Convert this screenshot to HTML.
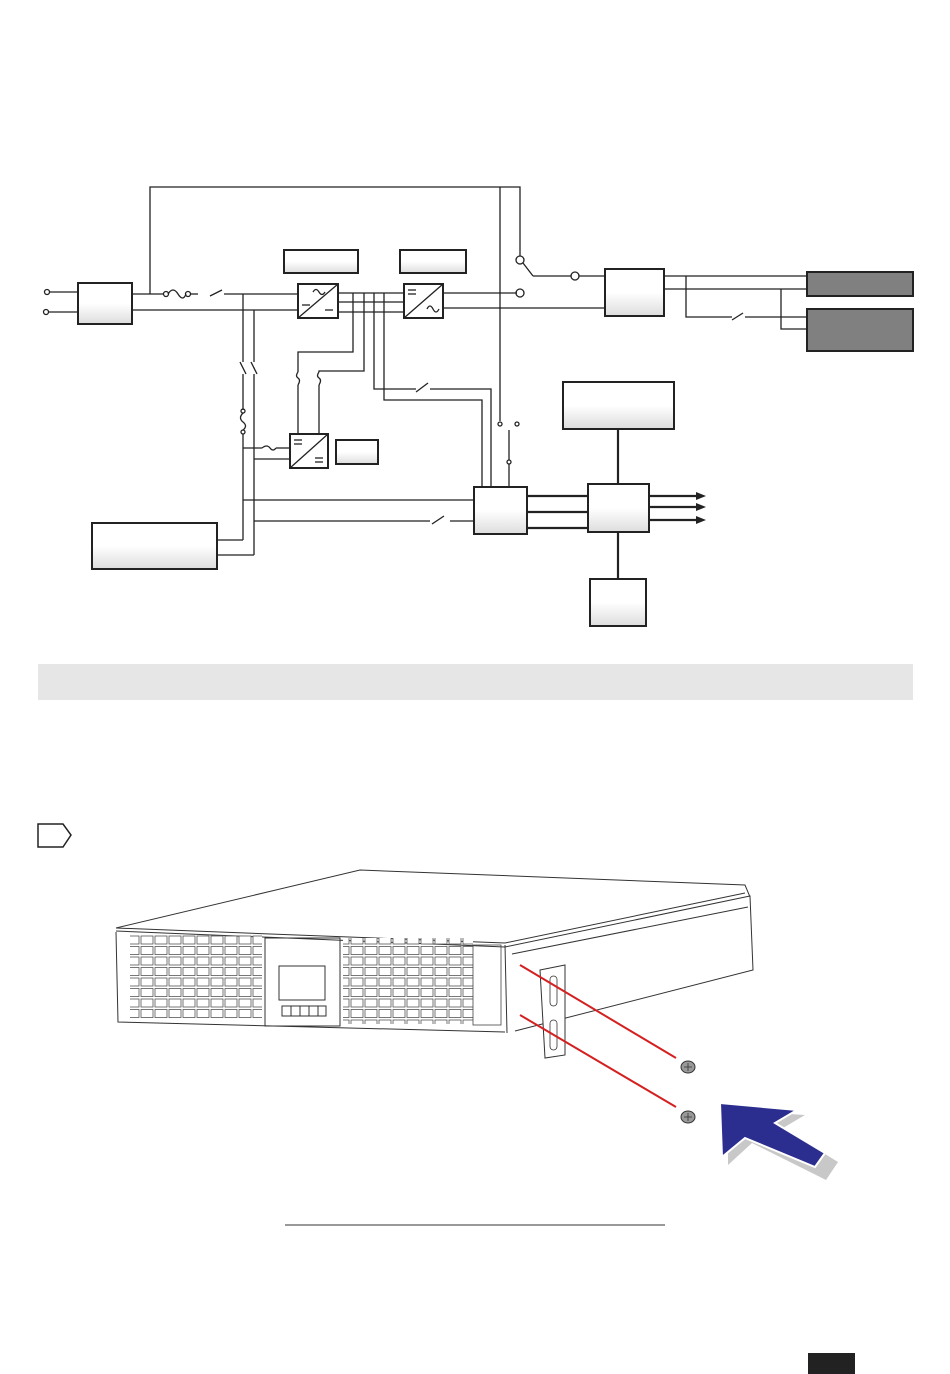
<!DOCTYPE html>
<html><head><meta charset="utf-8"><style>
html,body{margin:0;padding:0;background:#fff;}
svg{display:block;}
</style></head><body>
<svg width="950" height="1374" viewBox="0 0 950 1374" xmlns="http://www.w3.org/2000/svg">
<defs>
<linearGradient id="g" x1="0" y1="0" x2="0" y2="1"><stop offset="0.5" stop-color="#fff"/><stop offset="1" stop-color="#ddd"/></linearGradient>
<pattern id="grill" x="0" y="0" width="14" height="10.5" patternUnits="userSpaceOnUse">
<rect x="1" y="1.5" width="12" height="8" fill="#fff" stroke="#555" stroke-width="0.8"/>
</pattern>
</defs>
<g fill="none" stroke="#222" stroke-width="1.3">
<polyline points="150,294 150,187 520,187 520,256"/>
<line x1="500" y1="187" x2="500" y2="421"/>
<circle cx="47" cy="292" r="2.5"/><circle cx="46" cy="312" r="2.5"/>
<line x1="50" y1="292" x2="78" y2="292"/><line x1="49" y1="312" x2="78" y2="312"/>
<rect x="78" y="283" width="54" height="41" fill="url(#g)" stroke-width="2"/>
<line x1="132" y1="294" x2="163" y2="294"/>
<circle cx="166" cy="294" r="2.5"/><circle cx="188" cy="294" r="2.5"/>
<path d="M168,294 q5,-8 10,0 t8,0"/>
<line x1="190" y1="294" x2="198" y2="294"/>
<line x1="210" y1="296" x2="222" y2="290"/>
<line x1="224" y1="294" x2="298" y2="294"/>
<line x1="132" y1="310" x2="298" y2="310"/>
<rect x="298" y="284" width="40" height="34" stroke-width="2"/>
<line x1="298" y1="318" x2="338" y2="284"/>
<path d="M313,292 q3,-5 6,0 t6,0" />
<line x1="302" y1="305" x2="310" y2="305"/><line x1="325" y1="310" x2="333" y2="310"/>
<rect x="284" y="250" width="74" height="23" fill="url(#g)" stroke-width="2"/>
<rect x="400" y="250" width="66" height="23" fill="url(#g)" stroke-width="2"/>
<line x1="338" y1="293" x2="404" y2="293"/><line x1="338" y1="302" x2="404" y2="302"/><line x1="338" y1="312" x2="404" y2="312"/>
<rect x="404" y="284" width="39" height="34" stroke-width="2"/>
<line x1="404" y1="318" x2="443" y2="284"/>
<line x1="408" y1="290" x2="416" y2="290"/><line x1="408" y1="294" x2="416" y2="294"/>
<path d="M427,309 q3,-6 6,0 t6,0"/>
<line x1="443" y1="293" x2="517" y2="293"/><circle cx="520" cy="293" r="4"/>
<line x1="443" y1="308" x2="605" y2="308"/>
<circle cx="520" cy="260" r="4"/><line x1="523" y1="263" x2="533" y2="276"/>
<line x1="533" y1="276" x2="571" y2="276"/><circle cx="575" cy="276" r="4"/><line x1="579" y1="276" x2="605" y2="276"/>
<rect x="605" y="269" width="59" height="47" fill="url(#g)" stroke-width="2"/>
<line x1="664" y1="276" x2="807" y2="276"/><line x1="664" y1="289" x2="807" y2="289"/>
<polyline points="686,276 686,317 732,317"/><line x1="732" y1="320" x2="743" y2="313"/><polyline points="745,317 807,317"/>
<polyline points="781,289 781,329 807,329"/>
<polyline points="353,293 353,352 298,352 298,372"/>
<polyline points="364,293 364,371 319,371 319,372"/>
<path d="M298,372 q-3,4 0,6 t0,7 M319,372 q-3,4 0,6 t0,7"/>
<line x1="298" y1="385" x2="298" y2="434"/><line x1="319" y1="385" x2="319" y2="434"/>
<polyline points="374,293 374,389 416,389"/><line x1="416" y1="392" x2="428" y2="383"/><polyline points="430,389 491,389 491,487"/>
<polyline points="384,293 384,400 482,400 482,487"/>
<line x1="243" y1="294" x2="243" y2="362"/><line x1="254" y1="310" x2="254" y2="362"/>
<line x1="240" y1="362" x2="246" y2="374"/><line x1="251" y1="362" x2="257" y2="374"/>
<line x1="243" y1="374" x2="243" y2="410"/><line x1="254" y1="374" x2="254" y2="555"/>
<circle cx="243" cy="411" r="2"/><circle cx="243" cy="432" r="2"/>
<path d="M243,413 q-5,5 0,9 t0,8"/>
<line x1="243" y1="434" x2="243" y2="540"/>
<line x1="243" y1="448" x2="262" y2="448"/><path d="M262,448 q5,-4 8,0 t6,0"/><line x1="276" y1="448" x2="290" y2="448"/>
<line x1="254" y1="459" x2="290" y2="459"/>
<rect x="290" y="434" width="38" height="34" stroke-width="2"/>
<line x1="290" y1="468" x2="328" y2="434"/>
<line x1="294" y1="440" x2="302" y2="440"/><line x1="294" y1="444" x2="302" y2="444"/>
<line x1="315" y1="458" x2="323" y2="458"/><line x1="315" y1="462" x2="323" y2="462"/>
<rect x="336" y="440" width="42" height="24" fill="url(#g)" stroke-width="2"/>
<polyline points="243,540 217,540"/><polyline points="254,555 217,555"/>
<rect x="92" y="523" width="125" height="46" fill="url(#g)" stroke-width="2"/>
<line x1="243" y1="500" x2="474" y2="500"/>
<line x1="254" y1="521" x2="430" y2="521"/><line x1="432" y1="524" x2="444" y2="516"/><line x1="450" y1="521" x2="474" y2="521"/>
<circle cx="500" cy="424" r="2"/><circle cx="517" cy="424" r="2"/>
<line x1="509" y1="430" x2="509" y2="460"/><circle cx="509" cy="462" r="2"/><line x1="509" y1="464" x2="509" y2="487"/>
<rect x="474" y="487" width="53" height="47" fill="url(#g)" stroke-width="2"/>
<g stroke-width="2.2"><line x1="527" y1="496" x2="588" y2="496"/><line x1="527" y1="512" x2="588" y2="512"/><line x1="527" y1="528" x2="588" y2="528"/>
<line x1="618" y1="429" x2="618" y2="484"/><line x1="618" y1="532" x2="618" y2="579"/>
<line x1="649" y1="496" x2="698" y2="496"/><line x1="649" y1="507" x2="698" y2="507"/><line x1="649" y1="520" x2="698" y2="520"/></g>
<rect x="588" y="484" width="61" height="48" fill="url(#g)" stroke-width="2"/>
<rect x="563" y="382" width="111" height="47" fill="url(#g)" stroke-width="2"/>
<rect x="590" y="579" width="56" height="47" fill="url(#g)" stroke-width="2"/>
</g>
<g fill="#222"><polygon points="696,492 706,496 696,500"/><polygon points="696,503 706,507 696,511"/><polygon points="696,516 706,520 696,524"/></g>
<rect x="807" y="272" width="106" height="24" fill="#808080" stroke="#222" stroke-width="2"/>
<rect x="807" y="309" width="106" height="42" fill="#808080" stroke="#222" stroke-width="2"/>
<rect x="38" y="664" width="875" height="36" fill="#e6e6e6"/>
<path d="M38,824 H63 L71,835 L63,847 H38 Z" fill="none" stroke="#222" stroke-width="1.5"/>
<!-- UPS -->
<g fill="none" stroke="#333" stroke-width="1">
<polyline points="116,928 360,870 745,885 750,897"/>
<polyline points="116,928 505,943 745,893"/>
<line x1="116" y1="931" x2="505" y2="947"/>
<polyline points="116,932 118,1022 505,1032"/>
<line x1="505" y1="945" x2="507" y2="1033"/>
<polyline points="505,947 750,896 753,970 515,1031"/>
<line x1="512" y1="954" x2="748" y2="907"/>
</g>
<rect x="130" y="935" width="132" height="84" fill="url(#grill)"/>
<rect x="343" y="938" width="130" height="86" fill="url(#grill)"/>
<rect x="473" y="945" width="28" height="80" fill="none" stroke="#444" stroke-width="0.8"/>
<g fill="none" stroke="#333" stroke-width="1">
<rect x="265" y="938" width="75" height="88"/>
<rect x="279" y="966" width="46" height="34"/>
<path d="M282,1006h44v10h-44z M291,1006v10 M300,1006v10 M309,1006v10 M318,1006v10"/>
</g>
<polygon points="540,970 565,965 565,1055 545,1058" fill="#fff" stroke="#333" stroke-width="1"/>
<g fill="none" stroke="#333" stroke-width="0.8"><rect x="550" y="976" width="7" height="30" rx="3.5"/><rect x="550" y="1020" width="7" height="30" rx="3.5"/></g>
<g stroke="#d42020" stroke-width="2"><line x1="520" y1="965" x2="676" y2="1058"/><line x1="520" y1="1015" x2="676" y2="1107"/></g>
<g fill="#999" stroke="#333"><ellipse cx="688" cy="1067" rx="7" ry="6"/><ellipse cx="688" cy="1117" rx="7" ry="6"/></g>
<g stroke="#333" stroke-width="0.8"><path d="M684,1067h8M688,1063v8M684,1117h8M688,1113v8"/></g>
<polygon points="728,1110 805,1115 783,1128 838,1162 826,1180 752,1143 728,1165" fill="#c8c8c8"/>
<polygon points="720,1103 797,1110 775,1123 825,1153 815,1167 745,1138 722,1157" fill="#2b2e8f" stroke="#fff" stroke-width="2"/>
<line x1="285" y1="1225" x2="665" y2="1225" stroke="#333" stroke-width="1"/>
<rect x="808" y="1353" width="47" height="21" fill="#222"/>
</svg>
</body></html>
